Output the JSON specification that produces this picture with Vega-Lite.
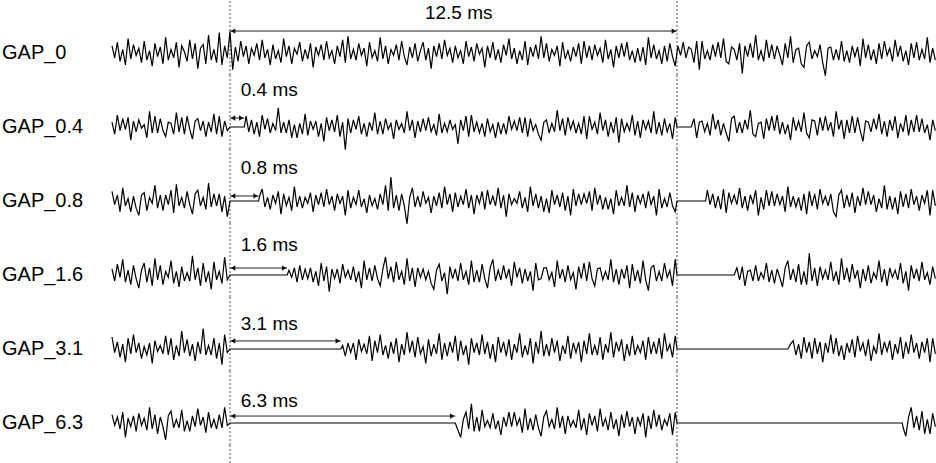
{
"$schema": "https://vega.github.io/schema/vega-lite/v6.json",
"padding": 0,
"background": "white",
"bounds": "flush",
"data": {"values": [
{"r":0,"k":"a","name":"GAP_0","t":0,"e":12.5,"ya":18.3,"yt":33.3,"tx":5.45,"lab":"12.5 ms"},
{"r":0.4,"k":"a","name":"GAP_0.4","t":0,"e":0.4,"ya":7.5,"yt":30.8,"tx":0.3,"lab":"0.4 ms"},
{"r":0.8,"k":"a","name":"GAP_0.8","t":0,"e":0.8,"ya":4.2,"yt":27.5,"tx":0.3,"lab":"0.8 ms"},
{"r":1.6,"k":"a","name":"GAP_1.6","t":0,"e":1.6,"ya":5.8,"yt":25,"tx":0.3,"lab":"1.6 ms"},
{"r":3.1,"k":"a","name":"GAP_3.1","t":0,"e":3.1,"ya":6.7,"yt":20.8,"tx":0.3,"lab":"3.1 ms"},
{"r":6.3,"k":"a","name":"GAP_6.3","t":0,"e":6.3,"ya":5.8,"yt":18.3,"tx":0.3,"lab":"6.3 ms"},

{"r":0,"t":-3.3,"v":6},{"r":0,"t":-3.225,"v":-4},{"r":0,"t":-3.15,"v":9},{"r":0,"t":-3.075,"v":-7},{"r":0,"t":-3,"v":3},{"r":0,"t":-2.925,"v":-10},{"r":0,"t":-2.85,"v":12},{"r":0,"t":-2.775,"v":-5},{"r":0,"t":-2.7,"v":7},{"r":0,"t":-2.625,"v":-2},
{"r":0,"t":-2.55,"v":4},{"r":0,"t":-2.475,"v":-8},{"r":0,"t":-2.4,"v":10},{"r":0,"t":-2.325,"v":-6},{"r":0,"t":-2.25,"v":2},{"r":0,"t":-2.175,"v":-11},{"r":0,"t":-2.1,"v":8},{"r":0,"t":-2.025,"v":-3},{"r":0,"t":-1.95,"v":5},{"r":0,"t":-1.875,"v":-9},
{"r":0,"t":-1.8,"v":13},{"r":0,"t":-1.725,"v":-6},{"r":0,"t":-1.65,"v":3},{"r":0,"t":-1.575,"v":-4},{"r":0,"t":-1.5,"v":9},{"r":0,"t":-1.425,"v":-12},{"r":0,"t":-1.35,"v":6},{"r":0,"t":-1.275,"v":1},{"r":0,"t":-1.2,"v":-7},{"r":0,"t":-1.125,"v":11},
{"r":0,"t":-1.05,"v":-5},{"r":0,"t":-0.975,"v":8},{"r":0,"t":-0.9,"v":-13},{"r":0,"t":-0.825,"v":4},{"r":0,"t":-0.75,"v":7},{"r":0,"t":-0.675,"v":-9},{"r":0,"t":-0.6,"v":15},{"r":0,"t":-0.525,"v":-6},{"r":0,"t":-0.45,"v":3},{"r":0,"t":-0.375,"v":-8},
{"r":0,"t":-0.3,"v":17},{"r":0,"t":-0.225,"v":-10},{"r":0,"t":-0.15,"v":6},{"r":0,"t":-0.075,"v":-4},{"r":0,"t":0,"v":18},{"r":0,"t":0.075,"v":-14},{"r":0,"t":0.15,"v":5},{"r":0,"t":0.225,"v":-7},{"r":0,"t":0.3,"v":10},{"r":0,"t":0.375,"v":-3},
{"r":0,"t":0.45,"v":6},{"r":0,"t":0.525,"v":-9},{"r":0,"t":0.6,"v":4},{"r":0,"t":0.675,"v":-2},{"r":0,"t":0.75,"v":8},{"r":0,"t":0.825,"v":-6},{"r":0,"t":0.9,"v":11},{"r":0,"t":0.975,"v":-4},{"r":0,"t":1.05,"v":3},{"r":0,"t":1.125,"v":-10},
{"r":0,"t":1.2,"v":7},{"r":0,"t":1.275,"v":-5},{"r":0,"t":1.35,"v":2},{"r":0,"t":1.425,"v":-8},{"r":0,"t":1.5,"v":12},{"r":0,"t":1.575,"v":-3},{"r":0,"t":1.65,"v":6},{"r":0,"t":1.725,"v":-9},{"r":0,"t":1.8,"v":4},{"r":0,"t":1.875,"v":-1},
{"r":0,"t":1.95,"v":9},{"r":0,"t":2.025,"v":-7},{"r":0,"t":2.1,"v":3},{"r":0,"t":2.175,"v":-5},{"r":0,"t":2.25,"v":8},{"r":0,"t":2.325,"v":-12},{"r":0,"t":2.4,"v":5},{"r":0,"t":2.475,"v":-2},{"r":0,"t":2.55,"v":7},{"r":0,"t":2.625,"v":-6},
{"r":0,"t":2.7,"v":10},{"r":0,"t":2.775,"v":-4},{"r":0,"t":2.85,"v":2},{"r":0,"t":2.925,"v":-9},{"r":0,"t":3,"v":6},{"r":0,"t":3.075,"v":-3},{"r":0,"t":3.15,"v":11},{"r":0,"t":3.225,"v":-8},{"r":0,"t":3.3,"v":14},{"r":0,"t":3.375,"v":-5},
{"r":0,"t":3.45,"v":3},{"r":0,"t":3.525,"v":-6},{"r":0,"t":3.6,"v":8},{"r":0,"t":3.675,"v":-2},{"r":0,"t":3.75,"v":4},{"r":0,"t":3.825,"v":-11},{"r":0,"t":3.9,"v":9},{"r":0,"t":3.975,"v":-4},{"r":0,"t":4.05,"v":2},{"r":0,"t":4.125,"v":-7},
{"r":0,"t":4.2,"v":13},{"r":0,"t":4.275,"v":-5},{"r":0,"t":4.35,"v":6},{"r":0,"t":4.425,"v":-9},{"r":0,"t":4.5,"v":3},{"r":0,"t":4.575,"v":-2},{"r":0,"t":4.65,"v":7},{"r":0,"t":4.725,"v":-6},{"r":0,"t":4.8,"v":10},{"r":0,"t":4.875,"v":-3},
{"r":0,"t":4.95,"v":-10},{"r":0,"t":5.025,"v":5},{"r":0,"t":5.1,"v":-4},{"r":0,"t":5.175,"v":8},{"r":0,"t":5.25,"v":-7},{"r":0,"t":5.325,"v":2},{"r":0,"t":5.4,"v":9},{"r":0,"t":5.475,"v":-6},{"r":0,"t":5.55,"v":4},{"r":0,"t":5.625,"v":-13},
{"r":0,"t":5.7,"v":6},{"r":0,"t":5.775,"v":-3},{"r":0,"t":5.85,"v":8},{"r":0,"t":5.925,"v":-5},{"r":0,"t":6,"v":11},{"r":0,"t":6.075,"v":-2},{"r":0,"t":6.15,"v":4},{"r":0,"t":6.225,"v":-8},{"r":0,"t":6.3,"v":6},{"r":0,"t":6.375,"v":-4},
{"r":0,"t":6.45,"v":2},{"r":0,"t":6.525,"v":-9},{"r":0,"t":6.6,"v":10},{"r":0,"t":6.675,"v":-3},{"r":0,"t":6.75,"v":5},{"r":0,"t":6.825,"v":-7},{"r":0,"t":6.9,"v":8},{"r":0,"t":6.975,"v":-1},{"r":0,"t":7.05,"v":4},{"r":0,"t":7.125,"v":-12},
{"r":0,"t":7.2,"v":6},{"r":0,"t":7.275,"v":-4},{"r":0,"t":7.35,"v":9},{"r":0,"t":7.425,"v":-6},{"r":0,"t":7.5,"v":3},{"r":0,"t":7.575,"v":-8},{"r":0,"t":7.65,"v":7},{"r":0,"t":7.725,"v":-2},{"r":0,"t":7.8,"v":12},{"r":0,"t":7.875,"v":-5},
{"r":0,"t":7.95,"v":4},{"r":0,"t":8.025,"v":-9},{"r":0,"t":8.1,"v":2},{"r":0,"t":8.175,"v":-6},{"r":0,"t":8.25,"v":10},{"r":0,"t":8.325,"v":-10},{"r":0,"t":8.4,"v":5},{"r":0,"t":8.475,"v":-3},{"r":0,"t":8.55,"v":7},{"r":0,"t":8.625,"v":-5},
{"r":0,"t":8.7,"v":14},{"r":0,"t":8.775,"v":-4},{"r":0,"t":8.85,"v":8},{"r":0,"t":8.925,"v":-7},{"r":0,"t":9,"v":3},{"r":0,"t":9.075,"v":-2},{"r":0,"t":9.15,"v":6},{"r":0,"t":9.225,"v":-11},{"r":0,"t":9.3,"v":9},{"r":0,"t":9.375,"v":-5},
{"r":0,"t":9.45,"v":2},{"r":0,"t":9.525,"v":-7},{"r":0,"t":9.6,"v":5},{"r":0,"t":9.675,"v":-3},{"r":0,"t":9.75,"v":8},{"r":0,"t":9.825,"v":-9},{"r":0,"t":9.9,"v":10},{"r":0,"t":9.975,"v":-4},{"r":0,"t":10.05,"v":6},{"r":0,"t":10.125,"v":-6},
{"r":0,"t":10.2,"v":7},{"r":0,"t":10.275,"v":-2},{"r":0,"t":10.35,"v":4},{"r":0,"t":10.425,"v":-8},{"r":0,"t":10.5,"v":11},{"r":0,"t":10.575,"v":-5},{"r":0,"t":10.65,"v":3},{"r":0,"t":10.725,"v":-12},{"r":0,"t":10.8,"v":6},{"r":0,"t":10.875,"v":-4},
{"r":0,"t":10.95,"v":8},{"r":0,"t":11.025,"v":-3},{"r":0,"t":11.1,"v":9},{"r":0,"t":11.175,"v":-6},{"r":0,"t":11.25,"v":2},{"r":0,"t":11.325,"v":-8},{"r":0,"t":11.4,"v":4},{"r":0,"t":11.475,"v":-7},{"r":0,"t":11.55,"v":5},{"r":0,"t":11.625,"v":-10},
{"r":0,"t":11.7,"v":13},{"r":0,"t":11.775,"v":-4},{"r":0,"t":11.85,"v":7},{"r":0,"t":11.925,"v":-5},{"r":0,"t":12,"v":2},{"r":0,"t":12.075,"v":-9},{"r":0,"t":12.15,"v":6},{"r":0,"t":12.225,"v":-7},{"r":0,"t":12.3,"v":8},{"r":0,"t":12.375,"v":-3},
{"r":0,"t":12.45,"v":-11},{"r":0,"t":12.525,"v":6},{"r":0,"t":12.6,"v":-2},{"r":0,"t":12.675,"v":9},{"r":0,"t":12.75,"v":-4},{"r":0,"t":12.825,"v":5},{"r":0,"t":12.9,"v":3},{"r":0,"t":12.975,"v":-8},{"r":0,"t":13.05,"v":10},{"r":0,"t":13.125,"v":-14},
{"r":0,"t":13.2,"v":10},{"r":0,"t":13.275,"v":-5},{"r":0,"t":13.35,"v":2},{"r":0,"t":13.425,"v":-6},{"r":0,"t":13.5,"v":7},{"r":0,"t":13.575,"v":-3},{"r":0,"t":13.65,"v":9},{"r":0,"t":13.725,"v":-4},{"r":0,"t":13.8,"v":12},{"r":0,"t":13.875,"v":-7},
{"r":0,"t":13.95,"v":-9},{"r":0,"t":14.025,"v":5},{"r":0,"t":14.1,"v":3},{"r":0,"t":14.175,"v":-6},{"r":0,"t":14.25,"v":8},{"r":0,"t":14.325,"v":-17},{"r":0,"t":14.4,"v":6},{"r":0,"t":14.475,"v":-3},{"r":0,"t":14.55,"v":8},{"r":0,"t":14.625,"v":-4},
{"r":0,"t":14.7,"v":15},{"r":0,"t":14.775,"v":-6},{"r":0,"t":14.85,"v":2},{"r":0,"t":14.925,"v":-7},{"r":0,"t":15,"v":11},{"r":0,"t":15.075,"v":-4},{"r":0,"t":15.15,"v":7},{"r":0,"t":15.225,"v":-5},{"r":0,"t":15.3,"v":6},{"r":0,"t":15.375,"v":-2},
{"r":0,"t":15.45,"v":-10},{"r":0,"t":15.525,"v":8},{"r":0,"t":15.6,"v":-4},{"r":0,"t":15.675,"v":14},{"r":0,"t":15.75,"v":-8},{"r":0,"t":15.825,"v":3},{"r":0,"t":15.9,"v":4},{"r":0,"t":15.975,"v":-9},{"r":0,"t":16.05,"v":-12},{"r":0,"t":16.125,"v":6},
{"r":0,"t":16.2,"v":9},{"r":0,"t":16.275,"v":-5},{"r":0,"t":16.35,"v":2},{"r":0,"t":16.425,"v":-3},{"r":0,"t":16.5,"v":7},{"r":0,"t":16.575,"v":-8},{"r":0,"t":16.65,"v":-19},{"r":0,"t":16.725,"v":4},{"r":0,"t":16.8,"v":5},{"r":0,"t":16.875,"v":-6},
{"r":0,"t":16.95,"v":3},{"r":0,"t":17.025,"v":-6},{"r":0,"t":17.1,"v":10},{"r":0,"t":17.175,"v":-7},{"r":0,"t":17.25,"v":2},{"r":0,"t":17.325,"v":-8},{"r":0,"t":17.4,"v":6},{"r":0,"t":17.475,"v":-3},{"r":0,"t":17.55,"v":5},{"r":0,"t":17.625,"v":-11},
{"r":0,"t":17.7,"v":12},{"r":0,"t":17.775,"v":-4},{"r":0,"t":17.85,"v":7},{"r":0,"t":17.925,"v":-6},{"r":0,"t":18,"v":3},{"r":0,"t":18.075,"v":-9},{"r":0,"t":18.15,"v":8},{"r":0,"t":18.225,"v":-5},{"r":0,"t":18.3,"v":10},{"r":0,"t":18.375,"v":-2},
{"r":0,"t":18.45,"v":4},{"r":0,"t":18.525,"v":-7},{"r":0,"t":18.6,"v":11},{"r":0,"t":18.675,"v":-3},{"r":0,"t":18.75,"v":6},{"r":0,"t":18.825,"v":-7},{"r":0,"t":18.9,"v":2},{"r":0,"t":18.975,"v":-10},{"r":0,"t":19.05,"v":8},{"r":0,"t":19.125,"v":-4},
{"r":0,"t":19.2,"v":9},{"r":0,"t":19.275,"v":-6},{"r":0,"t":19.35,"v":3},{"r":0,"t":19.425,"v":-5},{"r":0,"t":19.5,"v":13},{"r":0,"t":19.575,"v":-8},{"r":0,"t":19.65,"v":4},{"r":0,"t":19.725,"v":-6},

{"r":0.4,"t":-3.3,"v":4},{"r":0.4,"t":-3.225,"v":-6},{"r":0.4,"t":-3.15,"v":10},{"r":0.4,"t":-3.075,"v":-3},{"r":0.4,"t":-3,"v":7},{"r":0.4,"t":-2.925,"v":-2},{"r":0.4,"t":-2.85,"v":8},{"r":0.4,"t":-2.775,"v":-11},{"r":0.4,"t":-2.7,"v":5},{"r":0.4,"t":-2.625,"v":-4},
{"r":0.4,"t":-2.55,"v":6},{"r":0.4,"t":-2.475,"v":-1},{"r":0.4,"t":-2.4,"v":2},{"r":0.4,"t":-2.325,"v":-9},{"r":0.4,"t":-2.25,"v":13},{"r":0.4,"t":-2.175,"v":-5},{"r":0.4,"t":-2.1,"v":9},{"r":0.4,"t":-2.025,"v":-5},{"r":0.4,"t":-1.95,"v":7},{"r":0.4,"t":-1.875,"v":-3},
{"r":0.4,"t":-1.8,"v":-8},{"r":0.4,"t":-1.725,"v":4},{"r":0.4,"t":-1.65,"v":3},{"r":0.4,"t":-1.575,"v":-6},{"r":0.4,"t":-1.5,"v":12},{"r":0.4,"t":-1.425,"v":-4},{"r":0.4,"t":-1.35,"v":8},{"r":0.4,"t":-1.275,"v":-6},{"r":0.4,"t":-1.2,"v":9},{"r":0.4,"t":-1.125,"v":-2},
{"r":0.4,"t":-1.05,"v":-10},{"r":0.4,"t":-0.975,"v":5},{"r":0.4,"t":-0.9,"v":7},{"r":0.4,"t":-0.825,"v":-3},{"r":0.4,"t":-0.75,"v":5},{"r":0.4,"t":-0.675,"v":-8},{"r":0.4,"t":-0.6,"v":4},{"r":0.4,"t":-0.525,"v":-4},{"r":0.4,"t":-0.45,"v":11},{"r":0.4,"t":-0.375,"v":-6},
{"r":0.4,"t":-0.3,"v":9},{"r":0.4,"t":-0.225,"v":-8},{"r":0.4,"t":-0.15,"v":5},{"r":0.4,"t":-0.075,"v":-3},
{"r":0.4,"t":0,"v":0},{"r":0.4,"t":0.4,"v":0},
{"r":0.4,"t":0.45,"v":9},{"r":0.4,"t":0.525,"v":-4},{"r":0.4,"t":0.6,"v":6},{"r":0.4,"t":0.675,"v":-6},{"r":0.4,"t":0.75,"v":4},{"r":0.4,"t":0.825,"v":-8},{"r":0.4,"t":0.9,"v":10},{"r":0.4,"t":0.975,"v":-2},{"r":0.4,"t":1.05,"v":7},{"r":0.4,"t":1.125,"v":-5},
{"r":0.4,"t":1.2,"v":3},{"r":0.4,"t":1.275,"v":-3},{"r":0.4,"t":1.35,"v":16},{"r":0.4,"t":1.425,"v":-5},{"r":0.4,"t":1.5,"v":4},{"r":0.4,"t":1.575,"v":-5},{"r":0.4,"t":1.65,"v":6},{"r":0.4,"t":1.725,"v":-9},{"r":0.4,"t":1.8,"v":2},{"r":0.4,"t":1.875,"v":-9},
{"r":0.4,"t":1.95,"v":3},{"r":0.4,"t":2.025,"v":-6},{"r":0.4,"t":2.1,"v":11},{"r":0.4,"t":2.175,"v":-7},{"r":0.4,"t":2.25,"v":5},{"r":0.4,"t":2.325,"v":-2},{"r":0.4,"t":2.4,"v":5},{"r":0.4,"t":2.475,"v":-8},{"r":0.4,"t":2.55,"v":3},{"r":0.4,"t":2.625,"v":-12},
{"r":0.4,"t":2.7,"v":8},{"r":0.4,"t":2.775,"v":-3},{"r":0.4,"t":2.85,"v":6},{"r":0.4,"t":2.925,"v":-4},{"r":0.4,"t":3,"v":10},{"r":0.4,"t":3.075,"v":-8},{"r":0.4,"t":3.15,"v":4},{"r":0.4,"t":3.225,"v":-19},{"r":0.4,"t":3.3,"v":7},{"r":0.4,"t":3.375,"v":-5},
{"r":0.4,"t":3.45,"v":6},{"r":0.4,"t":3.525,"v":-2},{"r":0.4,"t":3.6,"v":9},{"r":0.4,"t":3.675,"v":-6},{"r":0.4,"t":3.75,"v":3},{"r":0.4,"t":3.825,"v":-8},{"r":0.4,"t":3.9,"v":4},{"r":0.4,"t":3.975,"v":-3},{"r":0.4,"t":4.05,"v":12},{"r":0.4,"t":4.125,"v":-6},
{"r":0.4,"t":4.2,"v":5},{"r":0.4,"t":4.275,"v":-6},{"r":0.4,"t":4.35,"v":7},{"r":0.4,"t":4.425,"v":-2},{"r":0.4,"t":4.5,"v":3},{"r":0.4,"t":4.575,"v":-10},{"r":0.4,"t":4.65,"v":6},{"r":0.4,"t":4.725,"v":-2},{"r":0.4,"t":4.8,"v":3},{"r":0.4,"t":4.875,"v":-5},
{"r":0.4,"t":4.95,"v":13},{"r":0.4,"t":5.025,"v":-3},{"r":0.4,"t":5.1,"v":6},{"r":0.4,"t":5.175,"v":-9},{"r":0.4,"t":5.25,"v":5},{"r":0.4,"t":5.325,"v":-4},{"r":0.4,"t":5.4,"v":7},{"r":0.4,"t":5.475,"v":-3},{"r":0.4,"t":5.55,"v":8},{"r":0.4,"t":5.625,"v":-4},
{"r":0.4,"t":5.7,"v":2},{"r":0.4,"t":5.775,"v":-7},{"r":0.4,"t":5.85,"v":11},{"r":0.4,"t":5.925,"v":-5},{"r":0.4,"t":6,"v":3},{"r":0.4,"t":6.075,"v":-4},{"r":0.4,"t":6.15,"v":6},{"r":0.4,"t":6.225,"v":-2},{"r":0.4,"t":6.3,"v":2},{"r":0.4,"t":6.375,"v":-14},
{"r":0.4,"t":6.45,"v":6},{"r":0.4,"t":6.525,"v":-3},{"r":0.4,"t":6.6,"v":9},{"r":0.4,"t":6.675,"v":-8},{"r":0.4,"t":6.75,"v":10},{"r":0.4,"t":6.825,"v":-4},{"r":0.4,"t":6.9,"v":4},{"r":0.4,"t":6.975,"v":-5},{"r":0.4,"t":7.05,"v":3},{"r":0.4,"t":7.125,"v":-8},
{"r":0.4,"t":7.2,"v":7},{"r":0.4,"t":7.275,"v":-4},{"r":0.4,"t":7.35,"v":2},{"r":0.4,"t":7.425,"v":-9},{"r":0.4,"t":7.5,"v":4},{"r":0.4,"t":7.575,"v":-6},{"r":0.4,"t":7.65,"v":3},{"r":0.4,"t":7.725,"v":-6},{"r":0.4,"t":7.8,"v":9},{"r":0.4,"t":7.875,"v":-2},
{"r":0.4,"t":7.95,"v":5},{"r":0.4,"t":8.025,"v":-3},{"r":0.4,"t":8.1,"v":8},{"r":0.4,"t":8.175,"v":-5},{"r":0.4,"t":8.25,"v":8},{"r":0.4,"t":8.325,"v":-8},{"r":0.4,"t":8.4,"v":7},{"r":0.4,"t":8.475,"v":-3},{"r":0.4,"t":8.55,"v":2},{"r":0.4,"t":8.625,"v":-6},
{"r":0.4,"t":8.7,"v":-11},{"r":0.4,"t":8.775,"v":4},{"r":0.4,"t":8.85,"v":6},{"r":0.4,"t":8.925,"v":-5},{"r":0.4,"t":9,"v":3},{"r":0.4,"t":9.075,"v":-4},{"r":0.4,"t":9.15,"v":14},{"r":0.4,"t":9.225,"v":-3},{"r":0.4,"t":9.3,"v":7},{"r":0.4,"t":9.375,"v":-7},
{"r":0.4,"t":9.45,"v":8},{"r":0.4,"t":9.525,"v":-2},{"r":0.4,"t":9.6,"v":5},{"r":0.4,"t":9.675,"v":-5},{"r":0.4,"t":9.75,"v":3},{"r":0.4,"t":9.825,"v":-6},{"r":0.4,"t":9.9,"v":9},{"r":0.4,"t":9.975,"v":-10},{"r":0.4,"t":10.05,"v":9},{"r":0.4,"t":10.125,"v":-2},
{"r":0.4,"t":10.2,"v":4},{"r":0.4,"t":10.275,"v":-6},{"r":0.4,"t":10.35,"v":12},{"r":0.4,"t":10.425,"v":-3},{"r":0.4,"t":10.5,"v":6},{"r":0.4,"t":10.575,"v":-8},{"r":0.4,"t":10.65,"v":4},{"r":0.4,"t":10.725,"v":-5},{"r":0.4,"t":10.8,"v":8},{"r":0.4,"t":10.875,"v":-13},
{"r":0.4,"t":10.95,"v":7},{"r":0.4,"t":11.025,"v":-4},{"r":0.4,"t":11.1,"v":3},{"r":0.4,"t":11.175,"v":-3},{"r":0.4,"t":11.25,"v":10},{"r":0.4,"t":11.325,"v":-7},{"r":0.4,"t":11.4,"v":5},{"r":0.4,"t":11.475,"v":-9},{"r":0.4,"t":11.55,"v":6},{"r":0.4,"t":11.625,"v":-2},
{"r":0.4,"t":11.7,"v":5},{"r":0.4,"t":11.775,"v":-5},{"r":0.4,"t":11.85,"v":13},{"r":0.4,"t":11.925,"v":-6},{"r":0.4,"t":12,"v":4},{"r":0.4,"t":12.075,"v":-7},{"r":0.4,"t":12.15,"v":7},{"r":0.4,"t":12.225,"v":-4},{"r":0.4,"t":12.3,"v":3},{"r":0.4,"t":12.375,"v":-10},
{"r":0.4,"t":12.45,"v":8},
{"r":0.4,"t":12.5,"v":0},{"r":0.4,"t":12.9,"v":0},
{"r":0.4,"t":12.975,"v":7},{"r":0.4,"t":13.05,"v":-9},{"r":0.4,"t":13.125,"v":4},
{"r":0.4,"t":13.2,"v":5},{"r":0.4,"t":13.275,"v":-4},{"r":0.4,"t":13.35,"v":3},{"r":0.4,"t":13.425,"v":-7},{"r":0.4,"t":13.5,"v":11},{"r":0.4,"t":13.575,"v":-2},{"r":0.4,"t":13.65,"v":6},{"r":0.4,"t":13.725,"v":-7},{"r":0.4,"t":13.8,"v":3},{"r":0.4,"t":13.875,"v":-5},
{"r":0.4,"t":13.95,"v":-12},{"r":0.4,"t":14.025,"v":7},{"r":0.4,"t":14.1,"v":9},{"r":0.4,"t":14.175,"v":-5},{"r":0.4,"t":14.25,"v":4},{"r":0.4,"t":14.325,"v":-5},{"r":0.4,"t":14.4,"v":6},{"r":0.4,"t":14.475,"v":-2},{"r":0.4,"t":14.55,"v":14},{"r":0.4,"t":14.625,"v":-6},
{"r":0.4,"t":14.7,"v":-8},{"r":0.4,"t":14.775,"v":3},{"r":0.4,"t":14.85,"v":4},{"r":0.4,"t":14.925,"v":-10},{"r":0.4,"t":15,"v":7},{"r":0.4,"t":15.075,"v":-3},{"r":0.4,"t":15.15,"v":9},{"r":0.4,"t":15.225,"v":-3},{"r":0.4,"t":15.3,"v":10},{"r":0.4,"t":15.375,"v":-6},
{"r":0.4,"t":15.45,"v":4},{"r":0.4,"t":15.525,"v":-6},{"r":0.4,"t":15.6,"v":2},{"r":0.4,"t":15.675,"v":-11},{"r":0.4,"t":15.75,"v":8},{"r":0.4,"t":15.825,"v":-3},{"r":0.4,"t":15.9,"v":5},{"r":0.4,"t":15.975,"v":-4},{"r":0.4,"t":16.05,"v":12},{"r":0.4,"t":16.125,"v":-5},
{"r":0.4,"t":16.2,"v":-9},{"r":0.4,"t":16.275,"v":6},{"r":0.4,"t":16.35,"v":5},{"r":0.4,"t":16.425,"v":-7},{"r":0.4,"t":16.5,"v":8},{"r":0.4,"t":16.575,"v":-3},{"r":0.4,"t":16.65,"v":9},{"r":0.4,"t":16.725,"v":-3},{"r":0.4,"t":16.8,"v":4},{"r":0.4,"t":16.875,"v":-8},
{"r":0.4,"t":16.95,"v":13},{"r":0.4,"t":17.025,"v":-2},{"r":0.4,"t":17.1,"v":6},{"r":0.4,"t":17.175,"v":-10},{"r":0.4,"t":17.25,"v":6},{"r":0.4,"t":17.325,"v":-5},{"r":0.4,"t":17.4,"v":9},{"r":0.4,"t":17.475,"v":-5},{"r":0.4,"t":17.55,"v":8},{"r":0.4,"t":17.625,"v":-3},
{"r":0.4,"t":17.7,"v":-12},{"r":0.4,"t":17.775,"v":5},{"r":0.4,"t":17.85,"v":4},{"r":0.4,"t":17.925,"v":-4},{"r":0.4,"t":18,"v":7},{"r":0.4,"t":18.075,"v":-2},{"r":0.4,"t":18.15,"v":11},{"r":0.4,"t":18.225,"v":-6},{"r":0.4,"t":18.3,"v":5},{"r":0.4,"t":18.375,"v":-8},
{"r":0.4,"t":18.45,"v":6},{"r":0.4,"t":18.525,"v":-3},{"r":0.4,"t":18.6,"v":9},{"r":0.4,"t":18.675,"v":-9},{"r":0.4,"t":18.75,"v":3},{"r":0.4,"t":18.825,"v":-4},{"r":0.4,"t":18.9,"v":10},{"r":0.4,"t":18.975,"v":-7},{"r":0.4,"t":19.05,"v":6},{"r":0.4,"t":19.125,"v":-4},
{"r":0.4,"t":19.2,"v":10},{"r":0.4,"t":19.275,"v":-4},{"r":0.4,"t":19.35,"v":7},{"r":0.4,"t":19.425,"v":-5},{"r":0.4,"t":19.5,"v":2},{"r":0.4,"t":19.575,"v":-11},{"r":0.4,"t":19.65,"v":6},{"r":0.4,"t":19.725,"v":-3},

{"r":0.8,"t":-3.3,"v":8},{"r":0.8,"t":-3.225,"v":-3},{"r":0.8,"t":-3.15,"v":5},{"r":0.8,"t":-3.075,"v":-9},{"r":0.8,"t":-3,"v":11},{"r":0.8,"t":-2.925,"v":-4},{"r":0.8,"t":-2.85,"v":2},{"r":0.8,"t":-2.775,"v":-9},{"r":0.8,"t":-2.7,"v":4},{"r":0.8,"t":-2.625,"v":-6},
{"r":0.8,"t":-2.55,"v":-12},{"r":0.8,"t":-2.475,"v":5},{"r":0.8,"t":-2.4,"v":7},{"r":0.8,"t":-2.325,"v":-8},{"r":0.8,"t":-2.25,"v":3},{"r":0.8,"t":-2.175,"v":-2},{"r":0.8,"t":-2.1,"v":13},{"r":0.8,"t":-2.025,"v":-6},{"r":0.8,"t":-1.95,"v":5},{"r":0.8,"t":-1.875,"v":-8},
{"r":0.8,"t":-1.8,"v":5},{"r":0.8,"t":-1.725,"v":-3},{"r":0.8,"t":-1.65,"v":9},{"r":0.8,"t":-1.575,"v":-10},{"r":0.8,"t":-1.5,"v":14},{"r":0.8,"t":-1.425,"v":-4},{"r":0.8,"t":-1.35,"v":3},{"r":0.8,"t":-1.275,"v":-6},{"r":0.8,"t":-1.2,"v":8},{"r":0.8,"t":-1.125,"v":-3},
{"r":0.8,"t":-1.05,"v":-11},{"r":0.8,"t":-0.975,"v":6},{"r":0.8,"t":-0.9,"v":9},{"r":0.8,"t":-0.825,"v":-4},{"r":0.8,"t":-0.75,"v":3},{"r":0.8,"t":-0.675,"v":-7},{"r":0.8,"t":-0.6,"v":15},{"r":0.8,"t":-0.525,"v":-5},{"r":0.8,"t":-0.45,"v":6},{"r":0.8,"t":-0.375,"v":-4},
{"r":0.8,"t":-0.3,"v":6},{"r":0.8,"t":-0.225,"v":-9},{"r":0.8,"t":-0.15,"v":4},{"r":0.8,"t":-0.075,"v":-13},
{"r":0.8,"t":0,"v":0},{"r":0.8,"t":0.8,"v":0},
{"r":0.8,"t":0.825,"v":4},{"r":0.8,"t":0.9,"v":10},{"r":0.8,"t":0.975,"v":-5},{"r":0.8,"t":1.05,"v":3},{"r":0.8,"t":1.125,"v":-7},
{"r":0.8,"t":1.2,"v":5},{"r":0.8,"t":1.275,"v":-2},{"r":0.8,"t":1.35,"v":8},{"r":0.8,"t":1.425,"v":-11},{"r":0.8,"t":1.5,"v":6},{"r":0.8,"t":1.575,"v":-4},{"r":0.8,"t":1.65,"v":3},{"r":0.8,"t":1.725,"v":-8},{"r":0.8,"t":1.8,"v":12},{"r":0.8,"t":1.875,"v":-5},
{"r":0.8,"t":1.95,"v":4},{"r":0.8,"t":2.025,"v":-6},{"r":0.8,"t":2.1,"v":3},{"r":0.8,"t":2.175,"v":-2},{"r":0.8,"t":2.25,"v":7},{"r":0.8,"t":2.325,"v":-9},{"r":0.8,"t":2.4,"v":5},{"r":0.8,"t":2.475,"v":-3},{"r":0.8,"t":2.55,"v":7},{"r":0.8,"t":2.625,"v":-5},
{"r":0.8,"t":2.7,"v":10},{"r":0.8,"t":2.775,"v":-3},{"r":0.8,"t":2.85,"v":4},{"r":0.8,"t":2.925,"v":-8},{"r":0.8,"t":3,"v":6},{"r":0.8,"t":3.075,"v":-2},{"r":0.8,"t":3.15,"v":4},{"r":0.8,"t":3.225,"v":-12},{"r":0.8,"t":3.3,"v":9},{"r":0.8,"t":3.375,"v":-6},
{"r":0.8,"t":3.45,"v":3},{"r":0.8,"t":3.525,"v":-3},{"r":0.8,"t":3.6,"v":9},{"r":0.8,"t":3.675,"v":-5},{"r":0.8,"t":3.75,"v":2},{"r":0.8,"t":3.825,"v":-10},{"r":0.8,"t":3.9,"v":5},{"r":0.8,"t":3.975,"v":-4},{"r":0.8,"t":4.05,"v":2},{"r":0.8,"t":4.125,"v":-7},
{"r":0.8,"t":4.2,"v":6},{"r":0.8,"t":4.275,"v":-3},{"r":0.8,"t":4.35,"v":13},{"r":0.8,"t":4.425,"v":-8},{"r":0.8,"t":4.5,"v":20},{"r":0.8,"t":4.575,"v":-6},{"r":0.8,"t":4.65,"v":5},{"r":0.8,"t":4.725,"v":-8},{"r":0.8,"t":4.8,"v":6},{"r":0.8,"t":4.875,"v":-4},
{"r":0.8,"t":4.95,"v":-19},{"r":0.8,"t":5.025,"v":3},{"r":0.8,"t":5.1,"v":11},{"r":0.8,"t":5.175,"v":-5},{"r":0.8,"t":5.25,"v":4},{"r":0.8,"t":5.325,"v":-5},{"r":0.8,"t":5.4,"v":8},{"r":0.8,"t":5.475,"v":-2},{"r":0.8,"t":5.55,"v":3},{"r":0.8,"t":5.625,"v":-10},
{"r":0.8,"t":5.7,"v":4},{"r":0.8,"t":5.775,"v":-4},{"r":0.8,"t":5.85,"v":7},{"r":0.8,"t":5.925,"v":-6},{"r":0.8,"t":6,"v":12},{"r":0.8,"t":6.075,"v":-3},{"r":0.8,"t":6.15,"v":6},{"r":0.8,"t":6.225,"v":-9},{"r":0.8,"t":6.3,"v":7},{"r":0.8,"t":6.375,"v":-5},
{"r":0.8,"t":6.45,"v":4},{"r":0.8,"t":6.525,"v":-3},{"r":0.8,"t":6.6,"v":10},{"r":0.8,"t":6.675,"v":-6},{"r":0.8,"t":6.75,"v":5},{"r":0.8,"t":6.825,"v":-11},{"r":0.8,"t":6.9,"v":5},{"r":0.8,"t":6.975,"v":-2},{"r":0.8,"t":7.05,"v":8},{"r":0.8,"t":7.125,"v":-7},
{"r":0.8,"t":7.2,"v":9},{"r":0.8,"t":7.275,"v":-3},{"r":0.8,"t":7.35,"v":4},{"r":0.8,"t":7.425,"v":-4},{"r":0.8,"t":7.5,"v":11},{"r":0.8,"t":7.575,"v":-6},{"r":0.8,"t":7.65,"v":5},{"r":0.8,"t":7.725,"v":-13},{"r":0.8,"t":7.8,"v":6},{"r":0.8,"t":7.875,"v":-3},
{"r":0.8,"t":7.95,"v":2},{"r":0.8,"t":8.025,"v":-2},{"r":0.8,"t":8.1,"v":8},{"r":0.8,"t":8.175,"v":-6},{"r":0.8,"t":8.25,"v":3},{"r":0.8,"t":8.325,"v":-9},{"r":0.8,"t":8.4,"v":12},{"r":0.8,"t":8.475,"v":-4},{"r":0.8,"t":8.55,"v":6},{"r":0.8,"t":8.625,"v":-6},
{"r":0.8,"t":8.7,"v":4},{"r":0.8,"t":8.775,"v":-9},{"r":0.8,"t":8.85,"v":2},{"r":0.8,"t":8.925,"v":-10},{"r":0.8,"t":9,"v":9},{"r":0.8,"t":9.075,"v":-3},{"r":0.8,"t":9.15,"v":5},{"r":0.8,"t":9.225,"v":-5},{"r":0.8,"t":9.3,"v":7},{"r":0.8,"t":9.375,"v":-8},
{"r":0.8,"t":9.45,"v":4},{"r":0.8,"t":9.525,"v":-12},{"r":0.8,"t":9.6,"v":10},{"r":0.8,"t":9.675,"v":-4},{"r":0.8,"t":9.75,"v":6},{"r":0.8,"t":9.825,"v":-3},{"r":0.8,"t":9.9,"v":6},{"r":0.8,"t":9.975,"v":-2},{"r":0.8,"t":10.05,"v":8},{"r":0.8,"t":10.125,"v":-8},
{"r":0.8,"t":10.2,"v":11},{"r":0.8,"t":10.275,"v":-3},{"r":0.8,"t":10.35,"v":5},{"r":0.8,"t":10.425,"v":-7},{"r":0.8,"t":10.5,"v":3},{"r":0.8,"t":10.575,"v":-7},{"r":0.8,"t":10.65,"v":2},{"r":0.8,"t":10.725,"v":-11},{"r":0.8,"t":10.8,"v":9},{"r":0.8,"t":10.875,"v":-4},
{"r":0.8,"t":10.95,"v":3},{"r":0.8,"t":11.025,"v":-4},{"r":0.8,"t":11.1,"v":13},{"r":0.8,"t":11.175,"v":-5},{"r":0.8,"t":11.25,"v":7},{"r":0.8,"t":11.325,"v":-9},{"r":0.8,"t":11.4,"v":5},{"r":0.8,"t":11.475,"v":-2},{"r":0.8,"t":11.55,"v":6},{"r":0.8,"t":11.625,"v":-6},
{"r":0.8,"t":11.7,"v":8},{"r":0.8,"t":11.775,"v":-3},{"r":0.8,"t":11.85,"v":4},{"r":0.8,"t":11.925,"v":-12},{"r":0.8,"t":12,"v":10},{"r":0.8,"t":12.075,"v":-6},{"r":0.8,"t":12.15,"v":2},{"r":0.8,"t":12.225,"v":-5},{"r":0.8,"t":12.3,"v":7},{"r":0.8,"t":12.375,"v":-4},
{"r":0.8,"t":12.45,"v":-9},
{"r":0.8,"t":12.5,"v":0},{"r":0.8,"t":13.3,"v":0},
{"r":0.8,"t":13.35,"v":9},{"r":0.8,"t":13.425,"v":-3},{"r":0.8,"t":13.5,"v":6},{"r":0.8,"t":13.575,"v":-6},{"r":0.8,"t":13.65,"v":4},{"r":0.8,"t":13.725,"v":-7},{"r":0.8,"t":13.8,"v":10},{"r":0.8,"t":13.875,"v":-10},
{"r":0.8,"t":13.95,"v":7},{"r":0.8,"t":14.025,"v":-2},{"r":0.8,"t":14.1,"v":5},{"r":0.8,"t":14.175,"v":-3},{"r":0.8,"t":14.25,"v":11},{"r":0.8,"t":14.325,"v":-6},{"r":0.8,"t":14.4,"v":4},{"r":0.8,"t":14.475,"v":-8},{"r":0.8,"t":14.55,"v":5},{"r":0.8,"t":14.625,"v":-2},
{"r":0.8,"t":14.7,"v":9},{"r":0.8,"t":14.775,"v":-12},{"r":0.8,"t":14.85,"v":3},{"r":0.8,"t":14.925,"v":-7},{"r":0.8,"t":15,"v":9},{"r":0.8,"t":15.075,"v":-4},{"r":0.8,"t":15.15,"v":8},{"r":0.8,"t":15.225,"v":-4},{"r":0.8,"t":15.3,"v":6},{"r":0.8,"t":15.375,"v":-3},
{"r":0.8,"t":15.45,"v":4},{"r":0.8,"t":15.525,"v":-9},{"r":0.8,"t":15.6,"v":12},{"r":0.8,"t":15.675,"v":-5},{"r":0.8,"t":15.75,"v":4},{"r":0.8,"t":15.825,"v":-5},{"r":0.8,"t":15.9,"v":3},{"r":0.8,"t":15.975,"v":-8},{"r":0.8,"t":16.05,"v":6},{"r":0.8,"t":16.125,"v":-11},
{"r":0.8,"t":16.2,"v":8},{"r":0.8,"t":16.275,"v":-4},{"r":0.8,"t":16.35,"v":6},{"r":0.8,"t":16.425,"v":-7},{"r":0.8,"t":16.5,"v":10},{"r":0.8,"t":16.575,"v":-2},{"r":0.8,"t":16.65,"v":4},{"r":0.8,"t":16.725,"v":-4},{"r":0.8,"t":16.8,"v":6},{"r":0.8,"t":16.875,"v":-9},
{"r":0.8,"t":16.95,"v":-13},{"r":0.8,"t":17.025,"v":5},{"r":0.8,"t":17.1,"v":9},{"r":0.8,"t":17.175,"v":-6},{"r":0.8,"t":17.25,"v":5},{"r":0.8,"t":17.325,"v":-5},{"r":0.8,"t":17.4,"v":7},{"r":0.8,"t":17.475,"v":-10},{"r":0.8,"t":17.55,"v":4},{"r":0.8,"t":17.625,"v":-4},
{"r":0.8,"t":17.7,"v":11},{"r":0.8,"t":17.775,"v":-3},{"r":0.8,"t":17.85,"v":8},{"r":0.8,"t":17.925,"v":-3},{"r":0.8,"t":18,"v":5},{"r":0.8,"t":18.075,"v":-9},{"r":0.8,"t":18.15,"v":2},{"r":0.8,"t":18.225,"v":-6},{"r":0.8,"t":18.3,"v":13},{"r":0.8,"t":18.375,"v":-7},
{"r":0.8,"t":18.45,"v":4},{"r":0.8,"t":18.525,"v":-7},{"r":0.8,"t":18.6,"v":3},{"r":0.8,"t":18.675,"v":-11},{"r":0.8,"t":18.75,"v":8},{"r":0.8,"t":18.825,"v":-5},{"r":0.8,"t":18.9,"v":6},{"r":0.8,"t":18.975,"v":-6},{"r":0.8,"t":19.05,"v":10},{"r":0.8,"t":19.125,"v":-3},
{"r":0.8,"t":19.2,"v":4},{"r":0.8,"t":19.275,"v":-8},{"r":0.8,"t":19.35,"v":5},{"r":0.8,"t":19.425,"v":-2},{"r":0.8,"t":19.5,"v":9},{"r":0.8,"t":19.575,"v":-12},{"r":0.8,"t":19.65,"v":9},{"r":0.8,"t":19.725,"v":-4},

{"r":1.6,"t":-3.3,"v":5},{"r":1.6,"t":-3.225,"v":-5},{"r":1.6,"t":-3.15,"v":9},{"r":1.6,"t":-3.075,"v":-2},{"r":1.6,"t":-3,"v":13},{"r":1.6,"t":-2.925,"v":-6},{"r":1.6,"t":-2.85,"v":4},{"r":1.6,"t":-2.775,"v":-8},{"r":1.6,"t":-2.7,"v":8},{"r":1.6,"t":-2.625,"v":-3},
{"r":1.6,"t":-2.55,"v":-11},{"r":1.6,"t":-2.475,"v":4},{"r":1.6,"t":-2.4,"v":10},{"r":1.6,"t":-2.325,"v":-6},{"r":1.6,"t":-2.25,"v":6},{"r":1.6,"t":-2.175,"v":-9},{"r":1.6,"t":-2.1,"v":14},{"r":1.6,"t":-2.025,"v":-4},{"r":1.6,"t":-1.95,"v":8},{"r":1.6,"t":-1.875,"v":-8},
{"r":1.6,"t":-1.8,"v":3},{"r":1.6,"t":-1.725,"v":-2},{"r":1.6,"t":-1.65,"v":12},{"r":1.6,"t":-1.575,"v":-7},{"r":1.6,"t":-1.5,"v":3},{"r":1.6,"t":-1.425,"v":-10},{"r":1.6,"t":-1.35,"v":7},{"r":1.6,"t":-1.275,"v":-5},{"r":1.6,"t":-1.2,"v":2},{"r":1.6,"t":-1.125,"v":-5},
{"r":1.6,"t":-1.05,"v":16},{"r":1.6,"t":-0.975,"v":-4},{"r":1.6,"t":-0.9,"v":6},{"r":1.6,"t":-0.825,"v":-9},{"r":1.6,"t":-0.75,"v":10},{"r":1.6,"t":-0.675,"v":-6},{"r":1.6,"t":-0.6,"v":3},{"r":1.6,"t":-0.525,"v":-12},{"r":1.6,"t":-0.45,"v":11},{"r":1.6,"t":-0.375,"v":-4},
{"r":1.6,"t":-0.3,"v":3},{"r":1.6,"t":-0.225,"v":-7},{"r":1.6,"t":-0.15,"v":15},{"r":1.6,"t":-0.075,"v":-4},
{"r":1.6,"t":0,"v":0},{"r":1.6,"t":1.6,"v":0},
{"r":1.6,"t":1.65,"v":4},{"r":1.6,"t":1.725,"v":-2},{"r":1.6,"t":1.8,"v":6},{"r":1.6,"t":1.875,"v":-6},
{"r":1.6,"t":1.95,"v":8},{"r":1.6,"t":2.025,"v":-4},{"r":1.6,"t":2.1,"v":5},{"r":1.6,"t":2.175,"v":-3},{"r":1.6,"t":2.25,"v":6},{"r":1.6,"t":2.325,"v":-6},{"r":1.6,"t":2.4,"v":3},{"r":1.6,"t":2.475,"v":-9},{"r":1.6,"t":2.55,"v":10},{"r":1.6,"t":2.625,"v":-5},
{"r":1.6,"t":2.7,"v":7},{"r":1.6,"t":2.775,"v":-14},{"r":1.6,"t":2.85,"v":5},{"r":1.6,"t":2.925,"v":-3},{"r":1.6,"t":3,"v":5},{"r":1.6,"t":3.075,"v":-7},{"r":1.6,"t":3.15,"v":9},{"r":1.6,"t":3.225,"v":-2},{"r":1.6,"t":3.3,"v":4},{"r":1.6,"t":3.375,"v":-4},
{"r":1.6,"t":3.45,"v":7},{"r":1.6,"t":3.525,"v":-6},{"r":1.6,"t":3.6,"v":3},{"r":1.6,"t":3.675,"v":-11},{"r":1.6,"t":3.75,"v":12},{"r":1.6,"t":3.825,"v":-4},{"r":1.6,"t":3.9,"v":6},{"r":1.6,"t":3.975,"v":-5},{"r":1.6,"t":4.05,"v":8},{"r":1.6,"t":4.125,"v":-3},
{"r":1.6,"t":4.2,"v":-9},{"r":1.6,"t":4.275,"v":5},{"r":1.6,"t":4.35,"v":15},{"r":1.6,"t":4.425,"v":-3},{"r":1.6,"t":4.5,"v":7},{"r":1.6,"t":4.575,"v":-6},{"r":1.6,"t":4.65,"v":11},{"r":1.6,"t":4.725,"v":-4},{"r":1.6,"t":4.8,"v":3},{"r":1.6,"t":4.875,"v":-8},
{"r":1.6,"t":4.95,"v":14},{"r":1.6,"t":5.025,"v":-5},{"r":1.6,"t":5.1,"v":6},{"r":1.6,"t":5.175,"v":-10},{"r":1.6,"t":5.25,"v":6},{"r":1.6,"t":5.325,"v":-2},{"r":1.6,"t":5.4,"v":5},{"r":1.6,"t":5.475,"v":-4},{"r":1.6,"t":5.55,"v":3},{"r":1.6,"t":5.625,"v":-7},
{"r":1.6,"t":5.7,"v":-12},{"r":1.6,"t":5.775,"v":4},{"r":1.6,"t":5.85,"v":9},{"r":1.6,"t":5.925,"v":-5},{"r":1.6,"t":6,"v":2},{"r":1.6,"t":6.075,"v":-16},{"r":1.6,"t":6.15,"v":7},{"r":1.6,"t":6.225,"v":-3},{"r":1.6,"t":6.3,"v":5},{"r":1.6,"t":6.375,"v":-5},
{"r":1.6,"t":6.45,"v":10},{"r":1.6,"t":6.525,"v":-4},{"r":1.6,"t":6.6,"v":3},{"r":1.6,"t":6.675,"v":-8},{"r":1.6,"t":6.75,"v":12},{"r":1.6,"t":6.825,"v":-6},{"r":1.6,"t":6.9,"v":4},{"r":1.6,"t":6.975,"v":-6},{"r":1.6,"t":7.05,"v":9},{"r":1.6,"t":7.125,"v":-3},
{"r":1.6,"t":7.2,"v":-11},{"r":1.6,"t":7.275,"v":6},{"r":1.6,"t":7.35,"v":13},{"r":1.6,"t":7.425,"v":-5},{"r":1.6,"t":7.5,"v":4},{"r":1.6,"t":7.575,"v":-4},{"r":1.6,"t":7.65,"v":8},{"r":1.6,"t":7.725,"v":-3},{"r":1.6,"t":7.8,"v":5},{"r":1.6,"t":7.875,"v":-9},
{"r":1.6,"t":7.95,"v":11},{"r":1.6,"t":8.025,"v":-2},{"r":1.6,"t":8.1,"v":6},{"r":1.6,"t":8.175,"v":-7},{"r":1.6,"t":8.25,"v":5},{"r":1.6,"t":8.325,"v":-5},{"r":1.6,"t":8.4,"v":3},{"r":1.6,"t":8.475,"v":-13},{"r":1.6,"t":8.55,"v":10},{"r":1.6,"t":8.625,"v":-4},
{"r":1.6,"t":8.7,"v":-3},{"r":1.6,"t":8.775,"v":6},{"r":1.6,"t":8.85,"v":6},{"r":1.6,"t":8.925,"v":-4},{"r":1.6,"t":9,"v":2},{"r":1.6,"t":9.075,"v":-10},{"r":1.6,"t":9.15,"v":12},{"r":1.6,"t":9.225,"v":-3},{"r":1.6,"t":9.3,"v":5},{"r":1.6,"t":9.375,"v":-6},
{"r":1.6,"t":9.45,"v":8},{"r":1.6,"t":9.525,"v":-4},{"r":1.6,"t":9.6,"v":2},{"r":1.6,"t":9.675,"v":-12},{"r":1.6,"t":9.75,"v":7},{"r":1.6,"t":9.825,"v":-3},{"r":1.6,"t":9.9,"v":10},{"r":1.6,"t":9.975,"v":-5},{"r":1.6,"t":10.05,"v":11},{"r":1.6,"t":10.125,"v":-3},
{"r":1.6,"t":10.2,"v":-9},{"r":1.6,"t":10.275,"v":5},{"r":1.6,"t":10.35,"v":6},{"r":1.6,"t":10.425,"v":-4},{"r":1.6,"t":10.5,"v":3},{"r":1.6,"t":10.575,"v":-4},{"r":1.6,"t":10.65,"v":13},{"r":1.6,"t":10.725,"v":-6},{"r":1.6,"t":10.8,"v":5},{"r":1.6,"t":10.875,"v":-8},
{"r":1.6,"t":10.95,"v":5},{"r":1.6,"t":11.025,"v":-3},{"r":1.6,"t":11.1,"v":8},{"r":1.6,"t":11.175,"v":-11},{"r":1.6,"t":11.25,"v":9},{"r":1.6,"t":11.325,"v":-5},{"r":1.6,"t":11.4,"v":4},{"r":1.6,"t":11.475,"v":-7},{"r":1.6,"t":11.55,"v":12},{"r":1.6,"t":11.625,"v":-4},
{"r":1.6,"t":11.7,"v":-13},{"r":1.6,"t":11.775,"v":6},{"r":1.6,"t":11.85,"v":8},{"r":1.6,"t":11.925,"v":-5},{"r":1.6,"t":12,"v":3},{"r":1.6,"t":12.075,"v":-5},{"r":1.6,"t":12.15,"v":10},{"r":1.6,"t":12.225,"v":-2},{"r":1.6,"t":12.3,"v":4},{"r":1.6,"t":12.375,"v":-9},
{"r":1.6,"t":12.45,"v":13},
{"r":1.6,"t":12.5,"v":0},{"r":1.6,"t":14.1,"v":0},
{"r":1.6,"t":14.175,"v":6},{"r":1.6,"t":14.25,"v":-4},{"r":1.6,"t":14.325,"v":7},{"r":1.6,"t":14.4,"v":-9},{"r":1.6,"t":14.475,"v":3},{"r":1.6,"t":14.55,"v":4},{"r":1.6,"t":14.625,"v":-5},
{"r":1.6,"t":14.7,"v":8},{"r":1.6,"t":14.775,"v":-5},{"r":1.6,"t":14.85,"v":2},{"r":1.6,"t":14.925,"v":-3},{"r":1.6,"t":15,"v":10},{"r":1.6,"t":15.075,"v":-6},{"r":1.6,"t":15.15,"v":4},{"r":1.6,"t":15.225,"v":-7},{"r":1.6,"t":15.3,"v":5},{"r":1.6,"t":15.375,"v":-2},
{"r":1.6,"t":15.45,"v":-10},{"r":1.6,"t":15.525,"v":6},{"r":1.6,"t":15.6,"v":12},{"r":1.6,"t":15.675,"v":-4},{"r":1.6,"t":15.75,"v":5},{"r":1.6,"t":15.825,"v":-6},{"r":1.6,"t":15.9,"v":9},{"r":1.6,"t":15.975,"v":-8},{"r":1.6,"t":16.05,"v":3},{"r":1.6,"t":16.125,"v":-8},
{"r":1.6,"t":16.2,"v":18},{"r":1.6,"t":16.275,"v":-5},{"r":1.6,"t":16.35,"v":6},{"r":1.6,"t":16.425,"v":-9},{"r":1.6,"t":16.5,"v":7},{"r":1.6,"t":16.575,"v":-3},{"r":1.6,"t":16.65,"v":4},{"r":1.6,"t":16.725,"v":-4},{"r":1.6,"t":16.8,"v":11},{"r":1.6,"t":16.875,"v":-5},
{"r":1.6,"t":16.95,"v":3},{"r":1.6,"t":17.025,"v":-8},{"r":1.6,"t":17.1,"v":14},{"r":1.6,"t":17.175,"v":-4},{"r":1.6,"t":17.25,"v":6},{"r":1.6,"t":17.325,"v":-6},{"r":1.6,"t":17.4,"v":9},{"r":1.6,"t":17.475,"v":-3},{"r":1.6,"t":17.55,"v":4},{"r":1.6,"t":17.625,"v":-11},
{"r":1.6,"t":17.7,"v":5},{"r":1.6,"t":17.775,"v":-5},{"r":1.6,"t":17.85,"v":8},{"r":1.6,"t":17.925,"v":-7},{"r":1.6,"t":18,"v":2},{"r":1.6,"t":18.075,"v":-3},{"r":1.6,"t":18.15,"v":12},{"r":1.6,"t":18.225,"v":-6},{"r":1.6,"t":18.3,"v":5},{"r":1.6,"t":18.375,"v":-9},
{"r":1.6,"t":18.45,"v":6},{"r":1.6,"t":18.525,"v":-2},{"r":1.6,"t":18.6,"v":4},{"r":1.6,"t":18.675,"v":-4},{"r":1.6,"t":18.75,"v":10},{"r":1.6,"t":18.825,"v":-7},{"r":1.6,"t":18.9,"v":3},{"r":1.6,"t":18.975,"v":-13},{"r":1.6,"t":19.05,"v":8},{"r":1.6,"t":19.125,"v":-3},
{"r":1.6,"t":19.2,"v":5},{"r":1.6,"t":19.275,"v":-5},{"r":1.6,"t":19.35,"v":11},{"r":1.6,"t":19.425,"v":-4},{"r":1.6,"t":19.5,"v":2},{"r":1.6,"t":19.575,"v":-8},{"r":1.6,"t":19.65,"v":7},{"r":1.6,"t":19.725,"v":-3},

{"r":3.1,"t":-3.3,"v":10},{"r":3.1,"t":-3.225,"v":-3},{"r":3.1,"t":-3.15,"v":6},{"r":3.1,"t":-3.075,"v":-7},{"r":3.1,"t":-3,"v":4},{"r":3.1,"t":-2.925,"v":-11},{"r":3.1,"t":-2.85,"v":9},{"r":3.1,"t":-2.775,"v":-4},{"r":3.1,"t":-2.7,"v":12},{"r":3.1,"t":-2.625,"v":-3},
{"r":3.1,"t":-2.55,"v":5},{"r":3.1,"t":-2.475,"v":-8},{"r":3.1,"t":-2.4,"v":2},{"r":3.1,"t":-2.325,"v":-5},{"r":3.1,"t":-2.25,"v":5},{"r":3.1,"t":-2.175,"v":-12},{"r":3.1,"t":-2.1,"v":7},{"r":3.1,"t":-2.025,"v":-2},{"r":3.1,"t":-1.95,"v":3},{"r":3.1,"t":-1.875,"v":-4},
{"r":3.1,"t":-1.8,"v":11},{"r":3.1,"t":-1.725,"v":-5},{"r":3.1,"t":-1.65,"v":9},{"r":3.1,"t":-1.575,"v":-9},{"r":3.1,"t":-1.5,"v":3},{"r":3.1,"t":-1.425,"v":-6},{"r":3.1,"t":-1.35,"v":15},{"r":3.1,"t":-1.275,"v":-3},{"r":3.1,"t":-1.2,"v":8},{"r":3.1,"t":-1.125,"v":-6},
{"r":3.1,"t":-1.05,"v":4},{"r":3.1,"t":-0.975,"v":-10},{"r":3.1,"t":-0.9,"v":6},{"r":3.1,"t":-0.825,"v":-4},{"r":3.1,"t":-0.75,"v":17},{"r":3.1,"t":-0.675,"v":-5},{"r":3.1,"t":-0.6,"v":3},{"r":3.1,"t":-0.525,"v":-5},{"r":3.1,"t":-0.45,"v":9},{"r":3.1,"t":-0.375,"v":-8},
{"r":3.1,"t":-0.3,"v":5},{"r":3.1,"t":-0.225,"v":-13},{"r":3.1,"t":-0.15,"v":12},{"r":3.1,"t":-0.075,"v":-3},
{"r":3.1,"t":0,"v":0},{"r":3.1,"t":3.1,"v":0},
{"r":3.1,"t":3.15,"v":3},{"r":3.1,"t":3.225,"v":-6},{"r":3.1,"t":3.3,"v":5},{"r":3.1,"t":3.375,"v":-3},
{"r":3.1,"t":3.45,"v":5},{"r":3.1,"t":3.525,"v":-9},{"r":3.1,"t":3.6,"v":8},{"r":3.1,"t":3.675,"v":-2},{"r":3.1,"t":3.75,"v":4},{"r":3.1,"t":3.825,"v":-4},{"r":3.1,"t":3.9,"v":11},{"r":3.1,"t":3.975,"v":-10},{"r":3.1,"t":4.05,"v":7},{"r":3.1,"t":4.125,"v":-3},
{"r":3.1,"t":4.2,"v":12},{"r":3.1,"t":4.275,"v":-5},{"r":3.1,"t":4.35,"v":3},{"r":3.1,"t":4.425,"v":-8},{"r":3.1,"t":4.5,"v":6},{"r":3.1,"t":4.575,"v":-4},{"r":3.1,"t":4.65,"v":9},{"r":3.1,"t":4.725,"v":-11},{"r":3.1,"t":4.8,"v":4},{"r":3.1,"t":4.875,"v":-5},
{"r":3.1,"t":4.95,"v":14},{"r":3.1,"t":5.025,"v":-3},{"r":3.1,"t":5.1,"v":7},{"r":3.1,"t":5.175,"v":-7},{"r":3.1,"t":5.25,"v":10},{"r":3.1,"t":5.325,"v":-4},{"r":3.1,"t":5.4,"v":2},{"r":3.1,"t":5.475,"v":-12},{"r":3.1,"t":5.55,"v":8},{"r":3.1,"t":5.625,"v":-6},
{"r":3.1,"t":5.7,"v":4},{"r":3.1,"t":5.775,"v":-4},{"r":3.1,"t":5.85,"v":13},{"r":3.1,"t":5.925,"v":-9},{"r":3.1,"t":6,"v":5},{"r":3.1,"t":6.075,"v":-6},{"r":3.1,"t":6.15,"v":6},{"r":3.1,"t":6.225,"v":-3},{"r":3.1,"t":6.3,"v":11},{"r":3.1,"t":6.375,"v":-10},
{"r":3.1,"t":6.45,"v":7},{"r":3.1,"t":6.525,"v":-5},{"r":3.1,"t":6.6,"v":3},{"r":3.1,"t":6.675,"v":-13},{"r":3.1,"t":6.75,"v":9},{"r":3.1,"t":6.825,"v":-3},{"r":3.1,"t":6.9,"v":5},{"r":3.1,"t":6.975,"v":-5},{"r":3.1,"t":7.05,"v":12},{"r":3.1,"t":7.125,"v":-4},
{"r":3.1,"t":7.2,"v":6},{"r":3.1,"t":7.275,"v":-8},{"r":3.1,"t":7.35,"v":4},{"r":3.1,"t":7.425,"v":-11},{"r":3.1,"t":7.5,"v":10},{"r":3.1,"t":7.575,"v":-3},{"r":3.1,"t":7.65,"v":6},{"r":3.1,"t":7.725,"v":-6},{"r":3.1,"t":7.8,"v":8},{"r":3.1,"t":7.875,"v":-9},
{"r":3.1,"t":7.95,"v":4},{"r":3.1,"t":8.025,"v":-3},{"r":3.1,"t":8.1,"v":13},{"r":3.1,"t":8.175,"v":-7},{"r":3.1,"t":8.25,"v":3},{"r":3.1,"t":8.325,"v":-5},{"r":3.1,"t":8.4,"v":9},{"r":3.1,"t":8.475,"v":-12},{"r":3.1,"t":8.55,"v":6},{"r":3.1,"t":8.625,"v":-4},
{"r":3.1,"t":8.7,"v":15},{"r":3.1,"t":8.775,"v":-6},{"r":3.1,"t":8.85,"v":4},{"r":3.1,"t":8.925,"v":-6},{"r":3.1,"t":9,"v":9},{"r":3.1,"t":9.075,"v":-3},{"r":3.1,"t":9.15,"v":7},{"r":3.1,"t":9.225,"v":-10},{"r":3.1,"t":9.3,"v":3},{"r":3.1,"t":9.375,"v":-4},
{"r":3.1,"t":9.45,"v":11},{"r":3.1,"t":9.525,"v":-8},{"r":3.1,"t":9.6,"v":5},{"r":3.1,"t":9.675,"v":-3},{"r":3.1,"t":9.75,"v":6},{"r":3.1,"t":9.825,"v":-11},{"r":3.1,"t":9.9,"v":7},{"r":3.1,"t":9.975,"v":-4},{"r":3.1,"t":10.05,"v":13},{"r":3.1,"t":10.125,"v":-5},
{"r":3.1,"t":10.2,"v":3},{"r":3.1,"t":10.275,"v":-5},{"r":3.1,"t":10.35,"v":10},{"r":3.1,"t":10.425,"v":-9},{"r":3.1,"t":10.5,"v":4},{"r":3.1,"t":10.575,"v":-3},{"r":3.1,"t":10.65,"v":14},{"r":3.1,"t":10.725,"v":-7},{"r":3.1,"t":10.8,"v":6},{"r":3.1,"t":10.875,"v":-2},
{"r":3.1,"t":10.95,"v":8},{"r":3.1,"t":11.025,"v":-10},{"r":3.1,"t":11.1,"v":4},{"r":3.1,"t":11.175,"v":-6},{"r":3.1,"t":11.25,"v":11},{"r":3.1,"t":11.325,"v":-5},{"r":3.1,"t":11.4,"v":3},{"r":3.1,"t":11.475,"v":-3},{"r":3.1,"t":11.55,"v":7},{"r":3.1,"t":11.625,"v":-9},
{"r":3.1,"t":11.7,"v":10},{"r":3.1,"t":11.775,"v":-4},{"r":3.1,"t":11.85,"v":6},{"r":3.1,"t":11.925,"v":-4},{"r":3.1,"t":12,"v":9},{"r":3.1,"t":12.075,"v":-8},{"r":3.1,"t":12.15,"v":13},{"r":3.1,"t":12.225,"v":-2},{"r":3.1,"t":12.3,"v":4},{"r":3.1,"t":12.375,"v":-7},
{"r":3.1,"t":12.45,"v":11},
{"r":3.1,"t":12.5,"v":0},{"r":3.1,"t":15.6,"v":0},
{"r":3.1,"t":15.675,"v":4},{"r":3.1,"t":15.75,"v":7},{"r":3.1,"t":15.825,"v":-5},{"r":3.1,"t":15.9,"v":4},{"r":3.1,"t":15.975,"v":-8},{"r":3.1,"t":16.05,"v":10},{"r":3.1,"t":16.125,"v":-3},
{"r":3.1,"t":16.2,"v":6},{"r":3.1,"t":16.275,"v":-8},{"r":3.1,"t":16.35,"v":9},{"r":3.1,"t":16.425,"v":-4},{"r":3.1,"t":16.5,"v":6},{"r":3.1,"t":16.575,"v":-11},{"r":3.1,"t":16.65,"v":5},{"r":3.1,"t":16.725,"v":-3},{"r":3.1,"t":16.8,"v":12},{"r":3.1,"t":16.875,"v":-4},
{"r":3.1,"t":16.95,"v":9},{"r":3.1,"t":17.025,"v":-6},{"r":3.1,"t":17.1,"v":3},{"r":3.1,"t":17.175,"v":-9},{"r":3.1,"t":17.25,"v":5},{"r":3.1,"t":17.325,"v":-3},{"r":3.1,"t":17.4,"v":8},{"r":3.1,"t":17.475,"v":-7},{"r":3.1,"t":17.55,"v":11},{"r":3.1,"t":17.625,"v":-2},
{"r":3.1,"t":17.7,"v":5},{"r":3.1,"t":17.775,"v":-6},{"r":3.1,"t":17.85,"v":8},{"r":3.1,"t":17.925,"v":-10},{"r":3.1,"t":18,"v":2},{"r":3.1,"t":18.075,"v":-4},{"r":3.1,"t":18.15,"v":13},{"r":3.1,"t":18.225,"v":-5},{"r":3.1,"t":18.3,"v":6},{"r":3.1,"t":18.375,"v":-2},
{"r":3.1,"t":18.45,"v":7},{"r":3.1,"t":18.525,"v":-9},{"r":3.1,"t":18.6,"v":4},{"r":3.1,"t":18.675,"v":-4},{"r":3.1,"t":18.75,"v":10},{"r":3.1,"t":18.825,"v":-8},{"r":3.1,"t":18.9,"v":6},{"r":3.1,"t":18.975,"v":-4},{"r":3.1,"t":19.05,"v":12},{"r":3.1,"t":19.125,"v":-3},
{"r":3.1,"t":19.2,"v":5},{"r":3.1,"t":19.275,"v":-8},{"r":3.1,"t":19.35,"v":6},{"r":3.1,"t":19.425,"v":-3},{"r":3.1,"t":19.5,"v":9},{"r":3.1,"t":19.575,"v":-11},{"r":3.1,"t":19.65,"v":9},{"r":3.1,"t":19.725,"v":-4},

{"r":6.3,"t":-3.3,"v":7},{"r":6.3,"t":-3.225,"v":-2},{"r":6.3,"t":-3.15,"v":5},{"r":6.3,"t":-3.075,"v":-5},{"r":6.3,"t":-3,"v":9},{"r":6.3,"t":-2.925,"v":-12},{"r":6.3,"t":-2.85,"v":4},{"r":6.3,"t":-2.775,"v":-3},{"r":6.3,"t":-2.7,"v":6},{"r":6.3,"t":-2.625,"v":-7},
{"r":6.3,"t":-2.55,"v":8},{"r":6.3,"t":-2.475,"v":-2},{"r":6.3,"t":-2.4,"v":4},{"r":6.3,"t":-2.325,"v":-6},{"r":6.3,"t":-2.25,"v":13},{"r":6.3,"t":-2.175,"v":-5},{"r":6.3,"t":-2.1,"v":7},{"r":6.3,"t":-2.025,"v":-9},{"r":6.3,"t":-1.95,"v":5},{"r":6.3,"t":-1.875,"v":-3},
{"r":6.3,"t":-1.8,"v":-14},{"r":6.3,"t":-1.725,"v":6},{"r":6.3,"t":-1.65,"v":10},{"r":6.3,"t":-1.575,"v":-4},{"r":6.3,"t":-1.5,"v":3},{"r":6.3,"t":-1.425,"v":-4},{"r":6.3,"t":-1.35,"v":11},{"r":6.3,"t":-1.275,"v":-7},{"r":6.3,"t":-1.2,"v":2},{"r":6.3,"t":-1.125,"v":-7},
{"r":6.3,"t":-1.05,"v":6},{"r":6.3,"t":-0.975,"v":-3},{"r":6.3,"t":-0.9,"v":12},{"r":6.3,"t":-0.825,"v":-2},{"r":6.3,"t":-0.75,"v":5},{"r":6.3,"t":-0.675,"v":-8},{"r":6.3,"t":-0.6,"v":9},{"r":6.3,"t":-0.525,"v":-4},{"r":6.3,"t":-0.45,"v":3},{"r":6.3,"t":-0.375,"v":-5},
{"r":6.3,"t":-0.3,"v":7},{"r":6.3,"t":-0.225,"v":-4},{"r":6.3,"t":-0.15,"v":13},{"r":6.3,"t":-0.075,"v":-2},
{"r":6.3,"t":0,"v":0},{"r":6.3,"t":6.3,"v":0},
{"r":6.3,"t":6.375,"v":-6},
{"r":6.3,"t":6.45,"v":-12},{"r":6.3,"t":6.525,"v":3},{"r":6.3,"t":6.6,"v":9},{"r":6.3,"t":6.675,"v":-5},{"r":6.3,"t":6.75,"v":16},{"r":6.3,"t":6.825,"v":-7},{"r":6.3,"t":6.9,"v":5},{"r":6.3,"t":6.975,"v":-7},{"r":6.3,"t":7.05,"v":11},{"r":6.3,"t":7.125,"v":-3},
{"r":6.3,"t":7.2,"v":2},{"r":6.3,"t":7.275,"v":-4},{"r":6.3,"t":7.35,"v":8},{"r":6.3,"t":7.425,"v":-5},{"r":6.3,"t":7.5,"v":2},{"r":6.3,"t":7.575,"v":-10},{"r":6.3,"t":7.65,"v":5},{"r":6.3,"t":7.725,"v":-3},{"r":6.3,"t":7.8,"v":9},{"r":6.3,"t":7.875,"v":-3},
{"r":6.3,"t":7.95,"v":9},{"r":6.3,"t":8.025,"v":-2},{"r":6.3,"t":8.1,"v":4},{"r":6.3,"t":8.175,"v":-8},{"r":6.3,"t":8.25,"v":12},{"r":6.3,"t":8.325,"v":-6},{"r":6.3,"t":8.4,"v":4},{"r":6.3,"t":8.475,"v":-6},{"r":6.3,"t":8.55,"v":7},{"r":6.3,"t":8.625,"v":-4},
{"r":6.3,"t":8.7,"v":-11},{"r":6.3,"t":8.775,"v":5},{"r":6.3,"t":8.85,"v":10},{"r":6.3,"t":8.925,"v":-3},{"r":6.3,"t":9,"v":3},{"r":6.3,"t":9.075,"v":-5},{"r":6.3,"t":9.15,"v":13},{"r":6.3,"t":9.225,"v":-4},{"r":6.3,"t":9.3,"v":6},{"r":6.3,"t":9.375,"v":-9},
{"r":6.3,"t":9.45,"v":6},{"r":6.3,"t":9.525,"v":-3},{"r":6.3,"t":9.6,"v":2},{"r":6.3,"t":9.675,"v":-4},{"r":6.3,"t":9.75,"v":11},{"r":6.3,"t":9.825,"v":-6},{"r":6.3,"t":9.9,"v":4},{"r":6.3,"t":9.975,"v":-10},{"r":6.3,"t":10.05,"v":8},{"r":6.3,"t":10.125,"v":-2},
{"r":6.3,"t":10.2,"v":6},{"r":6.3,"t":10.275,"v":-7},{"r":6.3,"t":10.35,"v":12},{"r":6.3,"t":10.425,"v":-3},{"r":6.3,"t":10.5,"v":4},{"r":6.3,"t":10.575,"v":-6},{"r":6.3,"t":10.65,"v":9},{"r":6.3,"t":10.725,"v":-5},{"r":6.3,"t":10.8,"v":3},{"r":6.3,"t":10.875,"v":-11},
{"r":6.3,"t":10.95,"v":7},{"r":6.3,"t":11.025,"v":-4},{"r":6.3,"t":11.1,"v":10},{"r":6.3,"t":11.175,"v":-3},{"r":6.3,"t":11.25,"v":5},{"r":6.3,"t":11.325,"v":-9},{"r":6.3,"t":11.4,"v":5},{"r":6.3,"t":11.475,"v":-2},{"r":6.3,"t":11.55,"v":8},{"r":6.3,"t":11.625,"v":-12},
{"r":6.3,"t":11.7,"v":6},{"r":6.3,"t":11.775,"v":-5},{"r":6.3,"t":11.85,"v":11},{"r":6.3,"t":11.925,"v":-3},{"r":6.3,"t":12,"v":7},{"r":6.3,"t":12.075,"v":-6},{"r":6.3,"t":12.15,"v":3},{"r":6.3,"t":12.225,"v":-2},{"r":6.3,"t":12.3,"v":8},{"r":6.3,"t":12.375,"v":-10},
{"r":6.3,"t":12.45,"v":9},
{"r":6.3,"t":12.5,"v":0},{"r":6.3,"t":18.8,"v":0},
{"r":6.3,"t":18.825,"v":-4},{"r":6.3,"t":18.9,"v":-11},{"r":6.3,"t":18.975,"v":5},{"r":6.3,"t":19.05,"v":13},{"r":6.3,"t":19.125,"v":-4},
{"r":6.3,"t":19.2,"v":6},{"r":6.3,"t":19.275,"v":-6},{"r":6.3,"t":19.35,"v":10},{"r":6.3,"t":19.425,"v":-9},{"r":6.3,"t":19.5,"v":3},{"r":6.3,"t":19.575,"v":-9},{"r":6.3,"t":19.65,"v":8},{"r":6.3,"t":19.725,"v":-3}
]},
"facet": {"row": {"field": "r", "type": "ordinal", "sort": "ascending", "header": {"title": null, "labels": false}}},
"spacing": 0,
"spec": {
 "width": 936,
 "height": 74,
 "layer": [
  {"transform": [{"filter": "datum.k == 'a'"}],
   "mark": {"type": "rule", "color": "#555", "strokeDash": [2, 2], "strokeWidth": 1},
   "encoding": {"x": {"field": "t", "type": "quantitative", "scale": {"domain": [-6.432, 19.743], "nice": false, "zero": false}, "axis": null}}},
  {"transform": [{"filter": "datum.k == 'a'"}],
   "mark": {"type": "rule", "color": "#555", "strokeDash": [2, 2], "strokeWidth": 1},
   "encoding": {"x": {"datum": 12.5, "type": "quantitative", "axis": null}}},
  {"transform": [{"filter": "datum.k == 'a' && datum.r == 6.3"}],
   "mark": {"type": "rule", "color": "#555", "strokeDash": [2, 2], "strokeWidth": 1},
   "encoding": {
     "x": {"field": "t", "type": "quantitative", "axis": null},
     "y": {"datum": -18.33, "type": "quantitative", "axis": null},
     "y2": {"datum": -34.2}}},
  {"transform": [{"filter": "datum.k == 'a' && datum.r == 6.3"}],
   "mark": {"type": "rule", "color": "#555", "strokeDash": [2, 2], "strokeWidth": 1},
   "encoding": {
     "x": {"datum": 12.5, "type": "quantitative", "axis": null},
     "y": {"datum": -18.33, "type": "quantitative", "axis": null},
     "y2": {"datum": -34.2}}},
  {"transform": [{"filter": "datum.k != 'a'"}],
   "mark": {"type": "line", "color": "#000", "strokeWidth": 1.2},
   "encoding": {
     "x": {"field": "t", "type": "quantitative", "axis": null},
     "y": {"field": "v", "type": "quantitative", "scale": {"domain": [-18.33, 43.33], "nice": false, "zero": false}, "axis": null}}},
  {"transform": [{"filter": "datum.k == 'a'"}],
   "mark": {"type": "rule", "color": "#222", "strokeWidth": 1},
   "encoding": {
     "x": {"field": "t", "type": "quantitative", "axis": null},
     "x2": {"field": "e"},
     "y": {"field": "ya", "type": "quantitative", "axis": null}}},
  {"transform": [{"filter": "datum.k == 'a'"}],
   "mark": {"type": "point", "shape": "triangle-left", "filled": true, "color": "#111", "size": 28, "opacity": 1, "xOffset": 3},
   "encoding": {
     "x": {"field": "t", "type": "quantitative", "axis": null},
     "y": {"field": "ya", "type": "quantitative", "axis": null}}},
  {"transform": [{"filter": "datum.k == 'a'"}],
   "mark": {"type": "point", "shape": "triangle-right", "filled": true, "color": "#111", "size": 28, "opacity": 1, "xOffset": -3},
   "encoding": {
     "x": {"field": "e", "type": "quantitative", "axis": null},
     "y": {"field": "ya", "type": "quantitative", "axis": null}}},
  {"transform": [{"filter": "datum.k == 'a'"}],
   "mark": {"type": "text", "align": "left", "baseline": "middle", "font": "Liberation Sans", "fontSize": 19, "color": "#000"},
   "encoding": {
     "x": {"field": "tx", "type": "quantitative", "axis": null},
     "y": {"field": "yt", "type": "quantitative", "axis": null},
     "text": {"field": "lab"}}},
  {"transform": [{"filter": "datum.k == 'a'"}],
   "mark": {"type": "text", "align": "left", "baseline": "middle", "font": "Liberation Sans", "fontSize": 20, "color": "#000"},
   "encoding": {
     "x": {"datum": -6.376, "type": "quantitative", "axis": null},
     "y": {"datum": 0, "type": "quantitative", "axis": null},
     "text": {"field": "name"}}}
 ]
},
"config": {"view": {"stroke": null}}
}
